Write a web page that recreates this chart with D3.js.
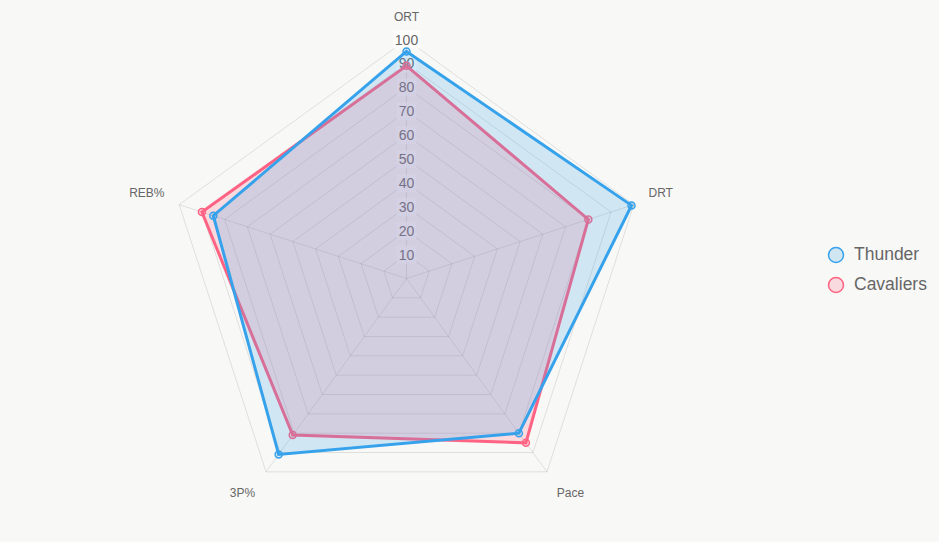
<!DOCTYPE html>
<html>
<head>
<meta charset="utf-8">
<script src="https://cdn.jsdelivr.net/npm/d3@7"></script>
<style>
  body { margin: 0; background: #f8f8f6; }
  svg { display: block; font-family: "Liberation Sans", Arial, sans-serif; }
</style>
</head>
<body>
<div id="chart"></div>
<script>
// chart values
var axes = ['ORT', 'DRT', 'Pace', '3P%', 'REB%'];
var thunder = [95, 99, 80, 91, 85];
var cavaliers = [89, 80, 85, 81, 90];
var ticks = [10, 20, 30, 40, 50, 60, 70, 80, 90, 100];

var width = 939, height = 542;
var cx = 406.5, cy = 278.5, R = 239;

var svg = d3.select('#chart').append('svg')
    .attr('width', width)
    .attr('height', height);

var r = d3.scaleLinear().domain([0, 100]).range([0, R]);
var angle = d3.scaleLinear().domain([0, axes.length]).range([0, 2 * Math.PI]);

var g = svg.append('g').attr('transform', `translate(${cx},${cy})`);

function pt(i, v){
    let a = angle(i);
    return [r(v) * Math.sin(a), -r(v) * Math.cos(a)];
}

// grid rings
ticks.forEach(t => {
    g.append('path')
        .attr('d', d3.lineRadial().angle((d, i) => angle(i)).radius(() => r(t)).curve(d3.curveLinearClosed)(axes))
        .attr('fill', 'none')
        .attr('stroke', 'rgba(0,0,0,0.1)')
        .attr('stroke-width', 1);
});

// angle lines
axes.forEach((a, i) => {
    let p = pt(i, 100);
    g.append('line')
        .attr('x1', 0).attr('y1', 0)
        .attr('x2', p[0]).attr('y2', p[1])
        .attr('stroke', 'rgba(0,0,0,0.1)')
        .attr('stroke-width', 1);
});

// tick labels with backdrop (under the datasets)
ticks.forEach(t => {
    let label = g.append('g').attr('transform', `translate(0,${-r(t)})`);
    let txt = t + '';
    let w = txt.length * 7.8;
    label.append('rect')
        .attr('x', -w / 2 - 2)
        .attr('y', -9)
        .attr('width', w + 4)
        .attr('height', 18)
        .attr('fill', 'rgba(255,255,255,0.75)');
    label.append('text')
        .attr('x', 0)
        .attr('y', 5)
        .attr('text-anchor', 'middle')
        .style('font-size', '14px')
        .attr('fill', '#666')
        .text(txt);
});

// datasets, last one drawn first like chart.js
var datasets = [
    {name: 'Thunder', values: thunder, color: 'rgb(54,162,235)', fill: 'rgba(54,162,235,0.2)'},
    {name: 'Cavaliers', values: cavaliers, color: 'rgb(255,99,132)', fill: 'rgba(255,99,132,0.2)'}
];

var radial = d3.lineRadial()
    .angle((d, i) => angle(i))
    .radius(d => r(d))
    .curve(d3.curveLinearClosed);

datasets.slice().reverse().forEach(ds => {
    let layer = g.append('g');
    layer.append('path')
        .attr('d', radial(ds.values))
        .attr('fill', ds.fill)
        .attr('stroke', ds.color)
        .attr('stroke-width', 3)
        .attr('stroke-linejoin', 'miter');
    layer.selectAll('circle')
        .data(ds.values)
        .enter().append('circle')
        .attr('cx', (d, i) => pt(i, d)[0])
        .attr('cy', (d, i) => pt(i, d)[1])
        .attr('r', 3.5)
        .attr('fill', ds.fill)
        .attr('stroke', ds.color)
        .attr('stroke-width', 1.5);
});

// point labels
var labelPos = [
    {x: 0, y: -258, anchor: 'middle'},
    {x: 242, y: -82, anchor: 'start'},
    {x: 164, y: 218, anchor: 'middle'},
    {x: -164, y: 218, anchor: 'middle'},
    {x: -242, y: -82, anchor: 'end'}
];
axes.forEach((a, i) => {
    g.append('text')
        .attr('x', labelPos[i].x)
        .attr('y', labelPos[i].y)
        .attr('text-anchor', labelPos[i].anchor)
        .style('font-size', '12px')
        .attr('fill', '#666')
        .text(a);
});

// legend
var legend = svg.append('g').attr('transform', 'translate(836,255)');
datasets.forEach((ds, i) => {
    let row = legend.append('g').attr('transform', `translate(0,${i * 30})`);
    row.append('circle')
        .attr('r', 7.5)
        .attr('fill', ds.fill)
        .attr('stroke', ds.color)
        .attr('stroke-width', 1.5);
    row.append('text')
        .attr('x', 18)
        .attr('y', 4.5)
        .style('font-size', '17.5px')
        .attr('fill', '#666')
        .text(ds.name);
});
</script>
</body>
</html>
